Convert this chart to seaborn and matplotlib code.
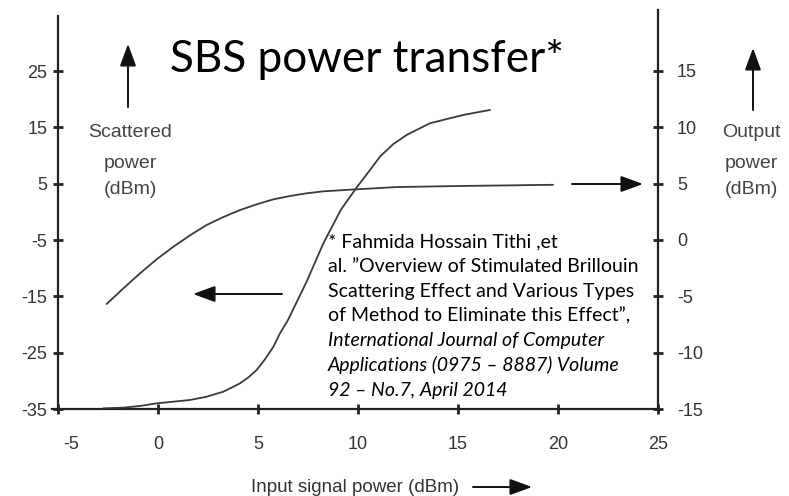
import matplotlib
matplotlib.use("Agg")
import matplotlib.pyplot as plt
import matplotlib.transforms as mtransforms
import seaborn as sns

# ---- data ----
scatter_x = [-2.57, -1.73, -0.9, -0.07, 0.77, 1.6, 2.43, 3.27, 4.1, 4.93, 5.77,
             6.6, 7.43, 8.27, 9.93, 11.95, 13.6, 15.25, 17.6, 19.75]
scatter_y = [-16.36, -13.58, -10.92, -8.43, -6.19, -4.17, -2.34, -0.92, 0.32, 1.33, 2.22,
             2.81, 3.29, 3.64, 4.0, 4.4, 4.5, 4.6, 4.7, 4.8]

output_x = [-2.73, -1.73, -0.9, -0.07, 0.77, 1.6, 2.43, 3.27, 3.77, 4.1, 4.52, 4.93,
            5.35, 5.77, 6.1, 6.5, 7.43, 8.27, 9.15, 9.93, 10.6, 11.1, 11.77, 12.43,
            13.6, 15.27, 16.6]
output_y = [-14.94, -14.88, -14.73, -14.5, -14.35, -14.2, -13.91, -13.46, -13.02, -12.72,
            -12.19, -11.54, -10.59, -9.47, -8.28, -7.1, -3.7, -0.29, 2.7, 4.65, 6.21,
            7.4, 8.52, 9.32, 10.36, 11.1, 11.54]

x_ticks = [-5, 0, 5, 10, 15, 20, 25]
left_ticks = [25, 15, 5, -5, -15, -25, -35]
right_ticks = [15, 10, 5, 0, -5, -10, -15]

title_text = "SBS power transfer*"
xlabel_text = "Input signal power (dBm)"
left_label = ["Scattered", "power", "(dBm)"]
right_label = ["Output", "power", "(dBm)"]
citation_normal = [
    "* Fahmida Hossain Tithi ,et",
    "al. \u201dOverview of Stimulated Brillouin",
    "Scattering Effect and Various Types",
    "of Method to Eliminate this Effect\u201d,",
]
citation_italic = [
    "International Journal of Computer",
    "Applications (0975 \u2013 8887) Volume",
    "92 \u2013 No.7, April 2014",
]

# ---- style ----
sns.set_theme(style="white")
plt.rcParams["font.family"] = ["Liberation Sans", "DejaVu Sans"]
plt.rcParams["axes.unicode_minus"] = False

W, H = 789, 496
fig = plt.figure(figsize=(W / 100, H / 100), dpi=100)
fig.patch.set_facecolor("white")


def fx(px):
    return px / W


def fy(py):
    return 1 - py / H


ax = fig.add_axes([fx(52), fy(409), (658 - 52) / W, (409 - 10) / H])
ax.set_facecolor("none")
ax2 = ax.twinx()

line_c = "#3a3a3a"
axis_c = "#222222"
tick_lab_c = "#333333"

sns.lineplot(x=scatter_x, y=scatter_y, ax=ax, color=line_c, lw=1.3, sort=False)
sns.lineplot(x=output_x, y=output_y, ax=ax2, color=line_c, lw=1.3, sort=False)

ax.set_xlim(-5.3, 25)
ax.set_ylim(-35, 35.83)
ax2.set_ylim(-15, 20.41)

ax.set_xticks(x_ticks, labels=[str(v) for v in x_ticks])
ax.set_yticks(left_ticks, labels=[str(v) for v in left_ticks])
ax2.set_yticks(right_ticks, labels=[str(v) for v in right_ticks])

for a in (ax, ax2):
    for s in a.spines.values():
        s.set_color(axis_c)
        s.set_linewidth(1.6)
    a.spines["top"].set_visible(False)
    a.grid(False)
ax.spines["right"].set_visible(False)
ax.spines["left"].set_position(("data", -5))
ax.spines["left"].set_bounds(-35, 34.77)
ax2.spines["left"].set_visible(False)
ax2.spines["bottom"].set_visible(False)

common = dict(direction="inout", length=7.2, width=2.0, color=axis_c,
              labelsize=13, labelcolor=tick_lab_c)
ax.tick_params(axis="y", left=True, pad=4.0, **common)
ax.tick_params(axis="x", bottom=True, pad=16, **common)
ax2.tick_params(axis="y", right=True, pad=10, **common)

# the "-5" label sits a little right of its tick in the reference
lab0 = ax.get_xticklabels()[0]
lab0.set_transform(lab0.get_transform() +
                   mtransforms.ScaledTranslation(0.13, 0, fig.dpi_scale_trans))

ax.set_xlabel(xlabel_text, fontsize=13.5, color="#333333", va="center")
ax.xaxis.set_label_coords(0.5, (409 - 487) / 399)
ax.set_ylabel("")
ax2.set_ylabel("")

# side labels
for i, yy in enumerate([133, 163, 190]):
    fig.text(fx(130), fy(yy), left_label[i], ha="center", va="center",
             fontsize=14, color="#444444")
    fig.text(fx(751), fy(yy), right_label[i], ha="center", va="center",
             fontsize=14, color="#444444")

# arrows (annotations)
arrow_kw = dict(arrowstyle="-|>,head_length=0.9,head_width=0.33", color="#111111",
                lw=1.4, shrinkA=0, shrinkB=0, mutation_scale=15)


def arrow(x0, y0, x1, y1):
    fig.add_artist(matplotlib.patches.FancyArrowPatch(
        (fx(x0), fy(y0)), (fx(x1), fy(y1)), transform=fig.transFigure, **arrow_kw))


arrow(128, 107, 128, 44)
arrow(753, 110, 753, 48)
arrow(282, 294, 193, 294)
arrow(572, 184, 643, 184)
arrow(473, 487, 532, 487)

# title
fig.text(fx(170), fy(72), title_text, ha="left", va="baseline",
         fontsize=31.8, color="black", family=["Lato", "DejaVu Sans"])

# citation
y0 = 247.5
step = 24.7
for i, line in enumerate(citation_normal + citation_italic):
    fig.text(fx(328), fy(y0 + i * step), line, ha="left", va="baseline",
             fontsize=14, color="black", family=["Lato", "DejaVu Sans"],
             style="italic" if i >= len(citation_normal) else "normal")

fig.savefig("out.png", dpi=100, facecolor="white")
